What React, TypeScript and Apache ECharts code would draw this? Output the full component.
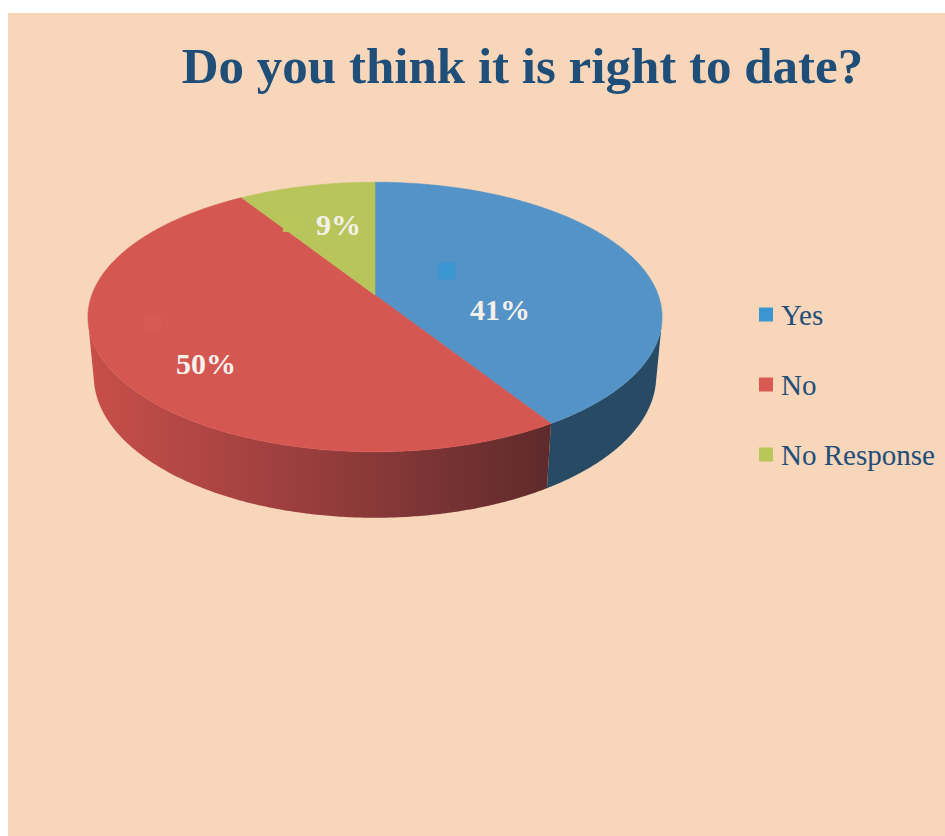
import React, { useEffect, useRef } from "react";
import * as echarts from "echarts";

// ---- data ----
const categories = ["Yes", "No", "No Response"];
const values = [41, 50, 9];
const percentLabels = ["41%", "50%", "9%"];
const titleText = "Do you think it is right to date?";

// ---- styling / layout ----
const topColors = ["#5393C8", "#D55752", "#B8C55A"];
const keyColors = ["#3A96D0", "#D95A52", "#B8C65A"];
const BG = "#F8D6BA";
const TITLE_COLOR = "#1F4E79";
const LABEL_COLOR = "#F4F1EA";

const APEX = [367, 282]; // pie centre in chart coordinates
const SCALE = 283.2; // horizontal radius scale in px
const TILT = (27.6 * Math.PI) / 180;
const DIST = 5.43; // camera distance in pie radii
const THICK = 0.238; // pie thickness in radii
const labelSpots = [
  [104.5, 0.4475],
  [228.9, 0.73],
  [346.6, 0.609],
];
const keyOffsets = [
  [-53, -39],
  [-53.5, -40.5],
  [-47, -0.7],
];
const KEY_SIZE = 17;

function project(thetaDeg: number, r: number, depth: number): number[] {
  const th = (thetaDeg * Math.PI) / 180;
  const s = Math.sin(TILT);
  const c = Math.cos(TILT);
  const xp = r * Math.sin(th);
  const t = -r * Math.cos(th);
  const den = 1 - (c / DIST) * t + (depth / DIST) * s;
  return [APEX[0] + (SCALE * xp) / den, APEX[1] + (SCALE * (s * t + depth * c)) / den];
}

function arc(a0: number, a1: number, depth: number): number[][] {
  const pts: number[][] = [];
  const n = Math.max(2, Math.ceil(Math.abs(a1 - a0) / 0.5));
  for (let i = 0; i <= n; i++) {
    pts.push(project(a0 + ((a1 - a0) * i) / n, 1, depth));
  }
  return pts;
}

const PHI = (Math.acos(1 / (DIST * Math.cos(TILT))) * 180) / Math.PI;

function sideFill(i: number): any {
  if (i === 0) return "#274A65";
  if (i === 1)
    return new echarts.graphic.LinearGradient(0, 0, 1, 0, [
      { offset: 0, color: "#C84F4A" },
      { offset: 0.5, color: "#963D3C" },
      { offset: 1, color: "#5E2A2B" },
    ]);
  return "#8A9A40";
}

function makeRenderItem(idx: number) {
  return (params: any, api: any) => {
    const total = values.reduce((a, b) => a + b, 0);
    let start = 0;
    for (let j = 0; j < idx; j++) start += values[j];
    const v = api.value(0);
    const a0 = (start / total) * 360;
    const a1 = ((start + v) / total) * 360;
    const children: any[] = [];

    const lo = Math.max(a0, 180 - PHI);
    const hi = Math.min(a1, 180 + PHI);
    if (hi > lo) {
      const pts = arc(lo, hi, 0).concat(arc(hi, lo, THICK));
      children.push({
        type: "polygon",
        z2: 1,
        shape: { points: pts },
        style: { fill: sideFill(idx), stroke: null },
      });
    }

    const topPts = [project(0, 0, 0)].concat(arc(a0, a1, 0));
    children.push({
      type: "polygon",
      z2: 5,
      shape: { points: topPts },
      style: { fill: topColors[idx], stroke: topColors[idx], lineWidth: 0.6 },
    });

    const spot = labelSpots[idx];
    const lp = project(spot[0], spot[1], 0);
    children.push({
      type: "rect",
      z2: 8,
      shape: {
        x: lp[0] + keyOffsets[idx][0] - KEY_SIZE / 2,
        y: lp[1] + keyOffsets[idx][1] - KEY_SIZE / 2,
        width: KEY_SIZE,
        height: KEY_SIZE,
      },
      style: { fill: keyColors[idx] },
    });
    children.push({
      type: "text",
      z2: 10,
      x: lp[0],
      y: lp[1],
      style: {
        text: percentLabels[idx],
        fill: LABEL_COLOR,
        font: "bold 30px 'Liberation Serif', serif",
        textAlign: "center",
        textVerticalAlign: "middle",
        align: "center",
        verticalAlign: "middle",
      },
    });
    return { type: "group", children };
  };
}

export default function App() {
  const ref = useRef<HTMLDivElement>(null);
  useEffect(() => {
    if (!ref.current) return;
    const chart = echarts.init(ref.current, null, { renderer: "svg" });
    chart.setOption({
      animation: false,
      backgroundColor: "transparent",
      graphic: [
        {
          type: "text",
          x: 514.5,
          y: 53,
          silent: true,
          style: {
            text: titleText,
            fill: TITLE_COLOR,
            font: "bold 51px 'Liberation Serif', serif",
            textAlign: "center",
            textVerticalAlign: "middle",
            align: "center",
            verticalAlign: "middle",
          },
        },
      ],
      legend: {
        orient: "vertical",
        left: 751,
        top: 287,
        padding: 0,
        itemGap: 41,
        itemWidth: 14,
        itemHeight: 14,
        icon: "rect",
        selectedMode: false,
        data: categories,
        textStyle: {
          fontFamily: "'Liberation Serif', serif",
          fontSize: 29,
          lineHeight: 28,
          color: TITLE_COLOR,
          padding: [0, 0, 0, 3],
        },
      },
      series: categories.map((name, i) => ({
        type: "custom",
        name,
        coordinateSystem: "none",
        silent: true,
        itemStyle: { color: keyColors[i] },
        data: [values[i]],
        renderItem: makeRenderItem(i),
      })),
    });
    return () => chart.dispose();
  }, []);
  return (
    <div
      ref={ref}
      style={{
        position: "fixed",
        left: 8,
        top: 13,
        width: 937,
        height: 823,
        background: BG,
      }}
    />
  );
}
